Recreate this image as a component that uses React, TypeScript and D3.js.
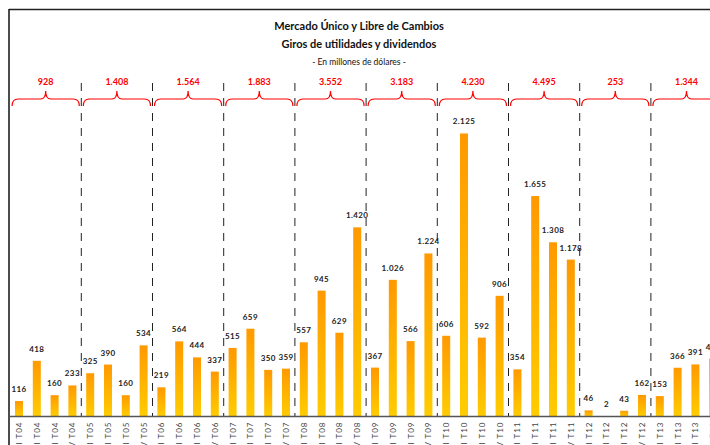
import * as d3 from 'd3';

// trimestres y años
const years = ['04', '05', '06', '07', '08', '09', '10', '11', '12', '13'];
const quarters = ['I', 'II', 'III', 'IV'];
const categories = years.flatMap(y => quarters.map(q => `${q} T${y}`));

// giros trimestrales (millones de USD)
const quarterValues = [
    116, 418, 160, 233,
    325, 390, 160, 534,
    219, 564, 444, 337,
    515, 659, 350, 359,
    557, 945, 629, 1420,
    367, 1026, 566, 1224,
    606, 2125, 592, 906,
    354, 1655, 1308, 1178,
    46, 2, 43, 162,
    153, 366, 391, 434,
];

// totales anuales
const yearTotals = [928, 1408, 1564, 1883, 3552, 3183, 4230, 4495, 253, 1344];

const W = 710;
const H = 445;
const font = 'Lato, "Open Sans", sans-serif';

const fmt = d3.formatLocale({ decimal: ',', thousands: '.', grouping: [3], currency: ['$', ''] }).format(',d');

export default function App() {
    const x = d3.scaleBand<string>()
        .domain(categories)
        .range([10.1, 10.1 + 17.8 * categories.length])
        .paddingInner(0.55)
        .paddingOuter(0.275);
    const step = x.step();
    const x0 = 10.1;
    const y = d3.scaleLinear().domain([0, 2500]).range([416.5, 83.5]);
    const baseY = y(0);

    // posiciones de los separadores de año
    const dividers = d3.range(1, years.length).map(i => x0 + step * 4 * i);

    const braceY = 99;
    const brace = (a: number, b: number) => {
        const m = (a + b) / 2;
        const p = d3.path();
        p.moveTo(a, braceY + 7);
        p.quadraticCurveTo(a, braceY, a + 6, braceY);
        p.lineTo(m - 5, braceY);
        p.quadraticCurveTo(m, braceY, m, braceY - 8);
        p.quadraticCurveTo(m, braceY, m + 5, braceY);
        p.lineTo(b - 6, braceY);
        p.quadraticCurveTo(b, braceY, b, braceY + 7);
        return p.toString();
    };

    return (
        <div style={{ position: 'fixed', left: 0, top: 0 }}>
            <svg width={W} height={H} style={{ display: 'block', background: '#fff' }}>
                <defs>
                    <linearGradient id="barGrad" x1="0" y1="0" x2="0" y2="1">
                        <stop offset="0" stopColor="#FF9900" />
                        <stop offset="1" stopColor="#FFCC00" />
                    </linearGradient>
                </defs>

                {/* marco */}
                <line x1={9} x2={W} y1={9.5} y2={9.5} stroke="#222" strokeWidth={1.5} />
                <line x1={9} x2={9} y1={9} y2={H} stroke="#111" strokeWidth={1.5} />

                {/* títulos */}
                <g fontFamily={font} textAnchor="middle" fill="#111">
                    <text x={359} y={30} fontSize={11} fontWeight="bold">Mercado Único y Libre de Cambios</text>
                    <text x={359} y={48} fontSize={11} fontWeight="bold">Giros de utilidades y dividendos</text>
                    <text x={359} y={65} fontSize={8.5}>- En millones de dólares -</text>
                </g>

                {/* separadores */}
                {dividers.map((d, i) => (
                    <line key={i} x1={d} x2={d} y1={83} y2={baseY} stroke="#222" strokeWidth={1} strokeDasharray="8,7" />
                ))}

                {/* llaves y totales */}
                {yearTotals.map((t, i) => {
                    const a = x0 + step * 4 * i + 2;
                    const b = x0 + step * 4 * (i + 1) - 2;
                    return (
                        <g key={i}>
                            <path d={brace(a, b)} fill="none" stroke="#FF0000" strokeWidth={1.2} />
                            <text x={(a + b) / 2} y={85} textAnchor="middle" fontFamily={font} fontSize={9}
                                fontWeight="bold" fill="#FF0000">{fmt(t)}</text>
                        </g>
                    );
                })}

                {/* barras */}
                {quarterValues.map((v, i) => (
                    <g key={i}>
                        <rect x={x(categories[i])} y={y(v)} width={x.bandwidth()} height={baseY - y(v)} fill="url(#barGrad)" />
                        <text x={x(categories[i])! + x.bandwidth() / 2} y={y(v) - 9} textAnchor="middle" fontFamily={font}
                            fontSize={8} fontWeight="bold" fill="#222" letterSpacing={0.4}>{fmt(v)}</text>
                    </g>
                ))}

                {/* eje */}
                <line x1={9} x2={W} y1={baseY} y2={baseY} stroke="#555" strokeWidth={1.5} />
                {categories.map((c, i) => {
                    const cx = x(c)! + x.bandwidth() / 2 + 3;
                    return (
                        <text key={i} transform={`translate(${cx},${baseY + 5}) rotate(-90)`} textAnchor="end"
                            fontFamily={font} fontSize={8} fill="#444" letterSpacing={1}>{c}</text>
                    );
                })}
            </svg>
        </div>
    );
}
